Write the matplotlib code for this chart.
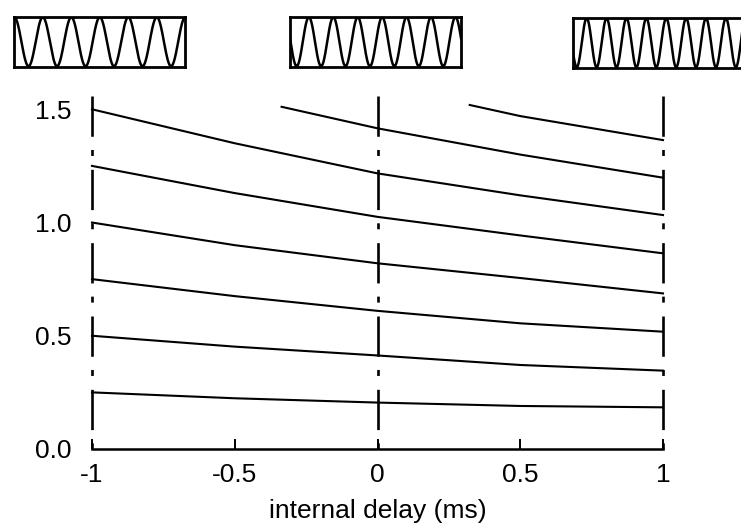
import numpy as np
import matplotlib
matplotlib.use("Agg")
import matplotlib.pyplot as plt

plt.rcParams['font.family'] = ['Liberation Sans', 'DejaVu Sans']
plt.rcParams['lines.scale_dashes'] = False

# curves (internal delay in ms -> value)
delay = [-1.0, -0.5, 0.0, 0.5, 1.0]
curve1 = [0.25, 0.224, 0.205, 0.19, 0.184]
curve2 = [0.50, 0.452, 0.413, 0.371, 0.346]
curve3 = [0.75, 0.675, 0.61, 0.555, 0.518]
curve4 = [1.00, 0.9, 0.82, 0.755, 0.687]
curve5 = [1.25, 1.13, 1.025, 0.943, 0.864]
curve6 = [1.50, 1.35, 1.217, 1.12, 1.033]
delay7 = [-0.336, 0.0, 0.5, 1.0]
curve7 = [1.511, 1.416, 1.30, 1.198]
delay8 = [0.323, 0.5, 1.0]
curve8 = [1.519, 1.47, 1.364]

xticks = [-1, -0.5, 0, 0.5, 1]
xticklabels = ['-1', '-0.5', '0', '0.5', '1']
yticks = [0.0, 0.5, 1.0, 1.5]
yticklabels = ['0.0', '0.5', '1.0', '1.5']
marker_x = [-1, 0, 1]

# stimulus icons: cycles in box and phase of first trough (fraction of box)
wave_cycles = [6, 7, 8.6]
wave_trough = [1 / 12, 0.039, 0.022]

fig = plt.figure(figsize=(7.41, 5.24), dpi=100)
ax = fig.add_axes([92 / 741, 1 - 449 / 524, 571 / 741, 353.3 / 524])

ytop = 1.56
for x in marker_x:
    ax.plot([x, x], [ytop, 0], color='black', lw=1.9,
            linestyle=(0, (29, 9.5, 4.3, 10)), clip_on=False, solid_capstyle='butt')

for ys in [curve1, curve2, curve3, curve4, curve5, curve6]:
    ax.plot(delay, ys, color='black', lw=1.5, clip_on=False)
ax.plot(delay7, curve7, color='black', lw=1.5, clip_on=False)
ax.plot(delay8, curve8, color='black', lw=1.5, clip_on=False)

ax.set_xlim(-1, 1)
ax.set_ylim(0, ytop)
for s in ['left', 'right', 'top']:
    ax.spines[s].set_visible(False)
ax.spines['bottom'].set_linewidth(1.8)

ax.set_xticks(xticks)
ax.set_xticklabels(xticklabels)
ax.set_yticks(yticks)
ax.set_yticklabels(yticklabels)
ax.tick_params(axis='x', direction='in', length=7, width=1.4, pad=10, labelsize=19)
ax.tick_params(axis='y', length=0, pad=15, labelsize=19)
ax.set_xlabel('internal delay (ms)', fontsize=19, labelpad=9)

# sinusoid icons above the plot
boxes = [(14.3, 16.7), (290, 16.7), (573, 17.7)]
for (bx, by), cyc, tr in zip(boxes, wave_cycles, wave_trough):
    iax = fig.add_axes([bx / 741, 1 - (by + 50) / 524, 171 / 741, 50 / 524])
    t = np.linspace(0, 1, 800)
    iax.plot(t, -np.cos(2 * np.pi * cyc * (t - tr)), color='black', lw=1.8)
    iax.set_xlim(0, 1)
    iax.set_ylim(-1.02, 1.02)
    iax.set_xticks([])
    iax.set_yticks([])
    for s in iax.spines.values():
        s.set_linewidth(2)

fig.savefig('out.png', dpi=100)
